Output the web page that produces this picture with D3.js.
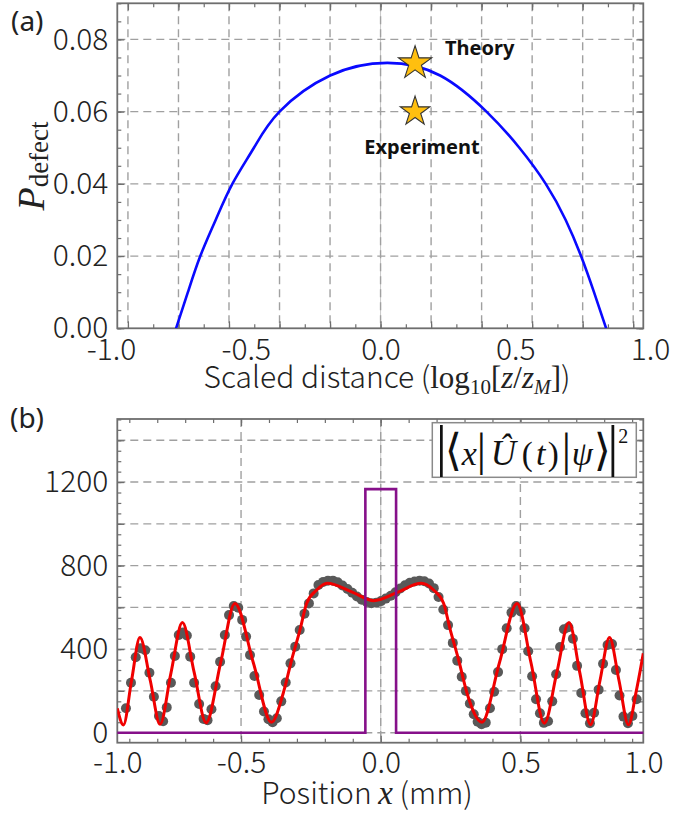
<!DOCTYPE html>
<html>
<head>
<meta charset="utf-8">
<script src="https://cdn.jsdelivr.net/npm/d3@7"></script>
<style>
  body { margin: 0; background: #fff; }
</style>
</head>
<body>
<svg id="fig" width="690" height="813"></svg>
<script>
// ---- panel (a) data ----
const defectX = [-0.759, -0.715, -0.669, -0.612, -0.550, -0.470, -0.375, -0.187, 0.025, 0.221, 0.393, 0.515, 0.613, 0.687, 0.744, 0.792, 0.837];
const defectY = [0, 0.010, 0.020, 0.030, 0.040, 0.050, 0.060, 0.070, 0.0735, 0.070, 0.060, 0.050, 0.040, 0.030, 0.020, 0.010, 0];
const starNames = ['Theory', 'Experiment'];
const starX = [0.128, 0.128];
const starY = [0.0734, 0.0600];
const aXLabels = [-1, -0.5, 0, 0.5, 1];
const aYLabels = [0, 0.02, 0.04, 0.06, 0.08];

// ---- panel (b) data ----
const fitX = [-0.943, -0.921, -0.892, -0.862, -0.825, -0.790, -0.751, -0.710, -0.668, -0.625, -0.573, -0.522, -0.456, -0.391, -0.349, -0.319, -0.289, -0.265, -0.229, -0.192, -0.100, -0.025, 0.060, 0.145, 0.189, 0.225, 0.249, 0.279, 0.309, 0.362, 0.425, 0.488, 0.538, 0.586, 0.630, 0.674, 0.713, 0.751, 0.785, 0.819, 0.853, 0.887, 0.915, 0.940];
const fitY = [116, 37, 250, 456, 250, 40, 285, 527, 290, 48, 335, 619, 335, 50, 189, 348, 492, 620, 683, 715, 672, 632, 672, 715, 683, 620, 492, 348, 189, 50, 335, 619, 335, 45, 285, 527, 285, 38, 250, 456, 250, 38, 200, 380];
const dotX = [-0.912, -0.894, -0.877, -0.860, -0.843, -0.828, -0.812, -0.794, -0.779, -0.766, -0.751, -0.737, -0.723, -0.708, -0.694, -0.682, -0.668, -0.650, -0.634, -0.620, -0.606, -0.591, -0.575, -0.558, -0.543, -0.526, -0.510, -0.496, -0.482, -0.468, -0.452, -0.435, -0.418, -0.402, -0.387, -0.372, -0.356, -0.340, -0.323, -0.306, -0.290, -0.273, -0.257, -0.240, -0.223, -0.206, -0.189, -0.171, -0.154, -0.137, -0.119, -0.102, -0.085, -0.068, -0.050, -0.033, -0.016, 0.001, 0.018, 0.036, 0.053, 0.070, 0.087, 0.104, 0.121, 0.139, 0.156, 0.173, 0.190, 0.207, 0.224, 0.241, 0.258, 0.274, 0.290, 0.305, 0.319, 0.333, 0.347, 0.361, 0.376, 0.391, 0.406, 0.420, 0.435, 0.451, 0.468, 0.485, 0.501, 0.515, 0.528, 0.542, 0.556, 0.570, 0.584, 0.599, 0.614, 0.628, 0.642, 0.656, 0.672, 0.688, 0.703, 0.718, 0.733, 0.749, 0.764, 0.780, 0.796, 0.812, 0.828, 0.842, 0.855, 0.869, 0.885, 0.901, 0.916];
const dotY = [117, 239, 361, 404, 395, 287, 172, 80, 55, 121, 239, 367, 468, 480, 465, 364, 239, 137, 66, 60, 112, 222, 340, 468, 563, 607, 598, 540, 460, 372, 271, 180, 101, 64, 50, 69, 150, 240, 332, 412, 492, 570, 619, 667, 707, 722, 728, 728, 720, 705, 688, 670, 652, 637, 626, 620, 622, 630, 642, 656, 672, 690, 706, 718, 724, 728, 725, 714, 692, 650, 590, 515, 430, 345, 268, 200, 140, 88, 52, 40, 48, 117, 196, 290, 400, 500, 575, 607, 580, 500, 390, 270, 160, 93, 47, 55, 150, 280, 410, 495, 505, 450, 320, 190, 93, 45, 95, 206, 330, 420, 425, 300, 178, 77, 45, 80, 160];
const slitX = [-0.943, -0.055, -0.055, 0.055, 0.055, 0.940];
const slitY = [0, 0, 1166, 1166, 0, 0];
const bXLabels = [-1, -0.5, 0, 0.5, 1];
const bYLabels = [0, 400, 800, 1200];

const SANS = '"Noto Sans CJK JP", "Noto Sans", sans-serif';
const SERIF = '"Liberation Serif", "DejaVu Serif", serif';
const GRID = '#a0a0a0';
const FRAME = '#6e6e6e';

const svg = d3.select('#fig');

// common frame pieces
function drawGrid(g, x, y, w, h, xs, ys) {
  g.append('line')
    .attr('x1', x(0)).attr('x2', x(0)).attr('y1', 0).attr('y2', h)
    .attr('stroke', '#c8c8c8').attr('stroke-width', 1);
  g.append('g').selectAll('line').data(xs).join('line')
    .attr('x1', (d) => x(d)).attr('x2', (d) => x(d))
    .attr('y1', 0).attr('y2', h)
    .attr('stroke', GRID).attr('stroke-width', 1.4).attr('stroke-dasharray', '8 5');
  g.append('g').selectAll('line').data(ys).join('line')
    .attr('x1', 0).attr('x2', w)
    .attr('y1', (d) => y(d)).attr('y2', (d) => y(d))
    .attr('stroke', GRID).attr('stroke-width', 1.4).attr('stroke-dasharray', '8 5');
}

function drawTicks(g, x, y, w, h, xMajor, xMinor, yMajor, yMinor) {
  const sets = [
    [d3.axisBottom, x, `translate(0,${h})`],
    [d3.axisTop, x, 'translate(0,0)'],
    [d3.axisLeft, y, 'translate(0,0)'],
    [d3.axisRight, y, `translate(${w},0)`],
  ];
  sets.forEach(([axis, s, tr], i) => {
    const major = i < 2 ? xMajor : yMajor;
    const minor = i < 2 ? xMinor : yMinor;
    [[minor, 4], [major, 7]].forEach(([vals, len]) => {
      g.append('g')
        .attr('transform', tr)
        .call(axis(s).tickValues(vals).tickSize(-len).tickFormat(''))
        .call((a) => a.select('.domain').remove())
        .call((a) => a.selectAll('line').attr('stroke', FRAME).attr('stroke-width', 1.2));
    });
  });
  g.append('rect')
    .attr('width', w).attr('height', h)
    .attr('fill', 'none').attr('stroke', FRAME).attr('stroke-width', 1.8);
}

function drawLabels(g, x, y, w, h, xLabels, yLabels, yFmt, pad) {
  g.append('g')
    .attr('transform', `translate(0,${h})`)
    .call(d3.axisBottom(x).tickValues(xLabels).tickSize(0).tickPadding(pad).tickFormat((d) => d.toFixed(1)))
    .call((a) => a.select('.domain').remove())
    .attr('font-family', SANS).attr('font-size', 30).attr('font-weight', 300)
    .call((a) => a.selectAll('text').attr('fill', '#222'));
  g.append('g')
    .call(d3.axisLeft(y).tickValues(yLabels).tickSize(0).tickPadding(9).tickFormat(yFmt))
    .call((a) => a.select('.domain').remove())
    .attr('font-family', SANS).attr('font-size', 30).attr('font-weight', 300)
    .call((a) => a.selectAll('text').attr('fill', '#222'));
}

// ================= panel (a) =================
const A = { left: 117.3, top: 3.3, width: 526, height: 325 };
const xa = d3.scaleLinear().domain([-0.977, 0.975]).range([0, A.width]);
const ya = d3.scaleLinear().domain([0, 0.09]).range([A.height, 0]);
const gridStepA = 0.1875;
const aGridX = d3.range(-5, 6).map((i) => i * gridStepA);
const aMinorX = d3.range(-10, 11).map((i) => i * gridStepA / 2).filter((v) => v > xa.domain()[0] && v < xa.domain()[1]);
const ga = svg.append('g').attr('transform', `translate(${A.left},${A.top})`);

ga.append('clipPath').attr('id', 'clipA')
  .append('rect').attr('width', A.width).attr('height', A.height);

drawGrid(ga, xa, ya, A.width, A.height, aGridX, [0.02, 0.04, 0.06, 0.08]);
drawTicks(ga, xa, ya, A.width, A.height, aGridX, aMinorX,
  d3.range(0, 0.0901, 0.02), d3.range(0, 0.0901, 0.005));

const defect = d3.zip(defectX, defectY);
ga.append('path')
  .attr('clip-path', 'url(#clipA)')
  .attr('d', d3.line().x((d) => xa(d[0])).y((d) => ya(d[1])).curve(d3.curveNatural)(defect))
  .attr('fill', 'none').attr('stroke', '#0a0aff').attr('stroke-width', 2.6);

const stars = d3.zip(starNames, starX, starY);
const starSize = [17.5, 15.5].map((r) => (r * r) / 0.8908130915292852);
ga.selectAll('path.star').data(stars).join('path')
  .attr('class', 'star')
  .attr('transform', (d) => `translate(${xa(d[1])},${ya(d[2])})`)
  .attr('d', (d, i) => d3.symbol(d3.symbolStar, starSize[i])())
  .attr('fill', '#ffbf0f').attr('stroke', '#333').attr('stroke-width', 1.1);
ga.selectAll('text.star').data(stars).join('text')
  .attr('class', 'star')
  .attr('x', (d, i) => xa(d[1]) + (i === 0 ? 30 : 7))
  .attr('y', (d, i) => ya(d[2]) + (i === 0 ? -8 : 42))
  .attr('text-anchor', (d, i) => (i === 0 ? 'start' : 'middle'))
  .attr('font-family', '"Noto Sans", sans-serif').attr('font-weight', 700).attr('font-size', 20)
  .attr('fill', '#111')
  .text((d) => d[0]);

drawLabels(ga, xa, ya, A.width, A.height, aXLabels, aYLabels, (d) => d.toFixed(2), 10);

// axis titles (a)
const ta = svg.append('text')
  .attr('x', 387).attr('y', 388).attr('text-anchor', 'middle')
  .attr('font-family', SANS).attr('font-weight', 300).attr('font-size', 30).attr('fill', '#222');
ta.append('tspan').text('Scaled distance (');
ta.append('tspan').attr('font-family', SERIF).attr('font-size', 31).text('log');
ta.append('tspan').attr('font-family', SERIF).attr('font-size', 21).attr('dy', 6).text('10');
ta.append('tspan').attr('font-family', SERIF).attr('font-size', 31).attr('dy', -6).text('[');
ta.append('tspan').attr('font-family', SERIF).attr('font-style', 'italic').attr('font-size', 31).text('z');
ta.append('tspan').attr('font-family', SERIF).attr('font-size', 31).text('/');
ta.append('tspan').attr('font-family', SERIF).attr('font-style', 'italic').attr('font-size', 31).text('z');
ta.append('tspan').attr('font-family', SERIF).attr('font-style', 'italic').attr('font-size', 20).attr('dy', 6).text('M');
ta.append('tspan').attr('font-family', SERIF).attr('font-size', 31).attr('dy', -6).text(']');
ta.append('tspan').text(')');

const tya = svg.append('text')
  .attr('transform', 'translate(44,166) rotate(-90)')
  .attr('text-anchor', 'middle').attr('font-family', SERIF).attr('fill', '#222');
tya.append('tspan').attr('font-style', 'italic').attr('font-size', 38).text('P');
tya.append('tspan').attr('font-size', 27).attr('dy', 4).text('defect');

svg.append('text').attr('x', 11).attr('y', 31)
  .attr('font-family', '"Noto Sans", sans-serif').attr('font-size', 28).attr('fill', '#222').text('(a)');

// ================= panel (b) =================
const B = { left: 117.3, top: 419, width: 526, height: 323.7 };
const xb = d3.scaleLinear().domain([-0.943, 0.940]).range([0, B.width]).clamp(true);
const yb = d3.scaleLinear().domain([-48, 1502]).range([B.height, 0]);
const gb = svg.append('g').attr('transform', `translate(${B.left},${B.top})`);

gb.append('clipPath').attr('id', 'clipB')
  .append('rect').attr('width', B.width).attr('height', B.height);

drawGrid(gb, xb, yb, B.width, B.height, [-0.5, 0, 0.5], d3.range(0, 1401, 200));
drawTicks(gb, xb, yb, B.width, B.height, [-0.5, 0, 0.5], d3.range(-0.9, 0.91, 0.1),
  d3.range(0, 1401, 200), d3.range(0, 1501, 50));

const dots = d3.zip(dotX, dotY);
gb.append('g').attr('clip-path', 'url(#clipB)')
  .selectAll('circle').data(dots).join('circle')
  .attr('cx', (d) => xb(d[0])).attr('cy', (d) => yb(d[1])).attr('r', 5)
  .attr('fill', '#595959');

const fit = d3.zip(fitX, fitY);
gb.append('path')
  .attr('clip-path', 'url(#clipB)')
  .attr('d', d3.line().x((d) => xb(d[0])).y((d) => yb(d[1])).curve(d3.curveMonotoneX)(fit))
  .attr('fill', 'none').attr('stroke', '#f00000').attr('stroke-width', 3);

const slit = d3.zip(slitX, slitY);
gb.append('path')
  .attr('d', d3.line().x((d) => xb(d[0])).y((d) => yb(d[1]))(slit))
  .attr('fill', 'none').attr('stroke', '#86108a').attr('stroke-width', 2.6);

drawLabels(gb, xb, yb, B.width, B.height, bXLabels, bYLabels, (d) => d.toString(), 9);

// legend box
const lg = gb.append('g').attr('transform', 'translate(315,3.7)');
lg.append('rect').attr('width', 204).attr('height', 54.6)
  .attr('fill', '#fff').attr('stroke', '#8a8a8a').attr('stroke-width', 1.5);
const pieces = [
  ['|', 9, 56, 'normal', 0],
  ['\u27E8', 21, 44, 'normal', 0],
  ['x', 37, 34, 'italic', 0],
  ['|', 49, 46, 'normal', 0],
  ['\u00DB', 71, 35, 'italic', 0],
  ['(', 95, 33, 'normal', 0],
  ['t', 108.5, 34, 'italic', 0],
  [')', 121, 33, 'normal', 0],
  ['|', 134, 46, 'normal', 0],
  ['\u03C8', 150, 34, 'italic', 0],
  ['\u27E9', 170, 44, 'normal', 0],
  ['|', 180.5, 56, 'normal', 0],
  ['2', 191, 20, 'normal', -22],
];
lg.selectAll('text').data(pieces).join('text')
  .attr('x', (d) => d[1]).attr('y', (d) => 42 + d[4])
  .attr('text-anchor', 'middle')
  .attr('font-family', (d) => (d[0] === '\u27E8' || d[0] === '\u27E9' ? '"DejaVu Serif", serif' : SERIF))
  .attr('font-size', (d) => d[2]).attr('font-style', (d) => d[3])
  .attr('fill', '#111')
  .text((d) => d[0]);

// axis titles (b)
const tb = svg.append('text')
  .attr('x', 367).attr('y', 804).attr('text-anchor', 'middle')
  .attr('font-family', SANS).attr('font-weight', 300).attr('font-size', 30).attr('fill', '#222');
tb.append('tspan').text('Position ');
tb.append('tspan').attr('font-family', SERIF).attr('font-style', 'italic').attr('font-size', 33).text('x');
tb.append('tspan').text(' (mm)');

svg.append('text').attr('x', 10).attr('y', 428)
  .attr('font-family', '"Noto Sans", sans-serif').attr('font-size', 28).attr('fill', '#222').text('(b)');
</script>
</body>
</html>
